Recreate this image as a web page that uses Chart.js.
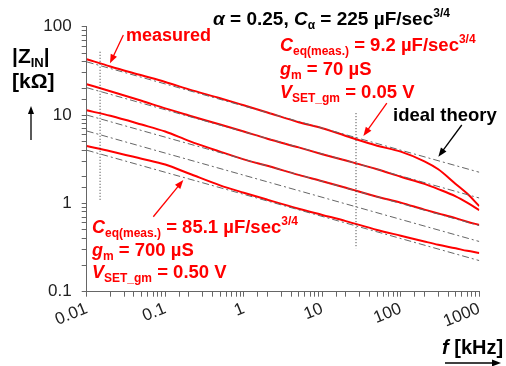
<!DOCTYPE html>
<html><head><meta charset="utf-8">
<script src="https://cdn.jsdelivr.net/npm/chart.js@4/dist/chart.umd.min.js"></script>
<style>html,body{margin:0;padding:0;background:#fff;}#wrap{width:506px;height:366px;position:relative;}</style>
</head><body><div id="wrap"><canvas id="c"></canvas></div>
<script>
// ---- data (frequency in kHz, |Z_IN| in kOhm) ----
const freqKHz = [0.01,0.02,0.05,0.1,0.2,0.5,1,2,5,10,20,50,100,200,300,500,700,1000];
const zMeasured1 = [42.8,35.5,28.2,23.7,19.5,15.5,12.9,10.7,8.3,7.1,5.8,4.5,3.85,2.99,2.43,1.66,1.29,0.93];
const zMeasured2 = [22.3,18.6,14.5,11.9,9.9,7.8,6.5,5.4,4.3,3.6,3.05,2.43,2.0,1.66,1.45,1.2,1.02,0.84];
const zMeasured3 = [11.3,9.8,7.8,6.5,5.1,3.85,3.15,2.66,2.1,1.78,1.5,1.19,1.02,0.85,0.77,0.68,0.62,0.57];
const zMeasured4 = [4.46,3.9,3.2,2.75,2.18,1.6,1.32,1.1,0.87,0.74,0.63,0.5,0.43,0.37,0.34,0.31,0.29,0.275];
const idealFreq = [0.01,1000];
const zIdeal1 = [40,2.25];
const zIdeal2 = [20.4,1.15];
const zIdeal3 = [10,0.56];
const zIdeal4 = [6.6,0.37];
const zIdeal5 = [4.0,0.225];
const markerFreqA = [0.0148,0.0148];
const markerZA = [52,1.09];
const markerFreqB = [26.9,26.9];
const markerZB = [10.5,0.31];
const xTickLabels = ['0.01','0.1','1','10','100','1000'];
const yTickLabels = ['0.1','1','10','100'];
// arrows: [fromF, fromZ, toF, toZ]
const arrowMeasured = [0.0293,80.5,0.0198,38.5];
const arrowTop = [66.4,13.6,33.4,5.78];
const arrowIdeal = [598,7.71,301,3.37];
const arrowBottom = [0.0705,0.705,0.170,1.84];

const FF = '"Liberation Sans", Arial, Helvetica, sans-serif';
const RED = '#ff0000';
const pts = (xs, ys) => xs.map((x,i)=>({x, y: ys[i]}));
const decadeLabel = (v, labels, minExp) => {
  const e = Math.log10(v), r = Math.round(e);
  if (Math.abs(e - r) > 1e-6) return '';
  return labels[r - minExp] ?? '';
};
const meas = (d) => ({data: d, borderColor: RED, borderWidth: 2, pointRadius: 0, cubicInterpolationMode: 'monotone', order: 2});
const ideal = (d) => ({data: d, borderColor: '#666', borderWidth: 1, borderDash: [7,3,2,3], pointRadius: 0, order: 1});
const marker = (d) => ({data: d, borderColor: '#333', borderWidth: 1, borderDash: [1,2], pointRadius: 0, order: 0});

const b = (s) => `bold ${s}px ${FF}`;
const ib = (s) => `italic bold ${s}px ${FF}`;
function runs(ctx, x, y, list, color) {
  ctx.save(); ctx.fillStyle = color; ctx.textAlign = 'left'; ctx.textBaseline = 'alphabetic';
  for (const r of list) { ctx.font = r.f; ctx.fillText(r.t, x, y + (r.dy || 0)); x += ctx.measureText(r.t).width; }
  ctx.restore();
}
function arrow(ctx, x1, y1, x2, y2, color, head) {
  ctx.save(); ctx.strokeStyle = color; ctx.fillStyle = color; ctx.lineWidth = 1.3;
  const a = Math.atan2(y2 - y1, x2 - x1);
  ctx.beginPath(); ctx.moveTo(x1, y1); ctx.lineTo(x2 - Math.cos(a)*head*0.8, y2 - Math.sin(a)*head*0.8); ctx.stroke();
  ctx.beginPath(); ctx.moveTo(x2, y2);
  ctx.lineTo(x2 - head*Math.cos(a) + head*0.38*Math.sin(a), y2 - head*Math.sin(a) - head*0.38*Math.cos(a));
  ctx.lineTo(x2 - head*Math.cos(a) - head*0.38*Math.sin(a), y2 - head*Math.sin(a) + head*0.38*Math.cos(a));
  ctx.closePath(); ctx.fill(); ctx.restore();
}
const annot = {
  id: 'annot',
  afterDraw(chart) {
    const ctx = chart.ctx, xs = chart.scales.x, ys = chart.scales.y;
    const dArrow = (a, c) => arrow(ctx, xs.getPixelForValue(a[0]), ys.getPixelForValue(a[1]), xs.getPixelForValue(a[2]), ys.getPixelForValue(a[3]), c, 9);
    runs(ctx, 213, 25, [{t:'α',f:ib(19)},{t:' = 0.25, ',f:b(19)},{t:'C',f:ib(19)},{t:'α',f:b(12),dy:4},{t:' = 225 µF/sec',f:b(19)},{t:'3/4',f:b(12),dy:-8}], '#000');
    runs(ctx, 126, 41, [{t:'measured',f:b(18)}], RED);
    runs(ctx, 280, 51, [{t:'C',f:ib(18)},{t:'eq(meas.)',f:b(12),dy:4},{t:' = 9.2 µF/sec',f:b(18.5)},{t:'3/4',f:b(12),dy:-8}], RED);
    runs(ctx, 280, 75, [{t:'g',f:ib(18)},{t:'m',f:b(12),dy:4},{t:' = 70 µS',f:b(18.5)}], RED);
    runs(ctx, 280, 98, [{t:'V',f:ib(18)},{t:'SET_gm',f:b(12),dy:4},{t:' = 0.05 V',f:b(18.5)}], RED);
    runs(ctx, 393, 121, [{t:'ideal theory',f:b(18.5)}], '#000');
    runs(ctx, 92, 233, [{t:'C',f:ib(18)},{t:'eq(meas.)',f:b(12),dy:4},{t:' = 85.1 µF/sec',f:b(18.5)},{t:'3/4',f:b(12),dy:-8}], RED);
    runs(ctx, 92, 256, [{t:'g',f:ib(18)},{t:'m',f:b(12),dy:4},{t:' = 700 µS',f:b(18.5)}], RED);
    runs(ctx, 92, 278, [{t:'V',f:ib(18)},{t:'SET_gm',f:b(12),dy:4},{t:' = 0.50 V',f:b(18.5)}], RED);
    runs(ctx, 12, 63, [{t:'|Z',f:b(21)},{t:'IN',f:b(13),dy:4},{t:'|',f:b(21)}], '#000');
    runs(ctx, 12, 88, [{t:'[kΩ]',f:b(21)}], '#000');
    runs(ctx, 442, 354, [{t:'f',f:ib(20)},{t:' [kHz]',f:b(20)}], '#000');
    arrow(ctx, 31, 140, 31, 106, '#000', 8);
    arrow(ctx, 445, 363, 501, 363, '#000', 9);
    dArrow(arrowMeasured, RED); dArrow(arrowTop, RED); dArrow(arrowIdeal, '#000'); dArrow(arrowBottom, RED);
  }
};

new Chart(document.getElementById('c'), {
  type: 'line',
  data: { datasets: [
    meas(pts(freqKHz, zMeasured1)), meas(pts(freqKHz, zMeasured2)), meas(pts(freqKHz, zMeasured3)), meas(pts(freqKHz, zMeasured4)),
    ideal(pts(idealFreq, zIdeal1)), ideal(pts(idealFreq, zIdeal2)), ideal(pts(idealFreq, zIdeal3)), ideal(pts(idealFreq, zIdeal4)), ideal(pts(idealFreq, zIdeal5)),
    marker(pts(markerFreqA, markerZA)), marker(pts(markerFreqB, markerZB))
  ]},
  options: {
    responsive: true, maintainAspectRatio: false, animation: false, devicePixelRatio: 1,
    layout: { padding: { left: 0, right: 26.7, top: 26.7, bottom: 0 } },
    plugins: { legend: { display: false }, tooltip: { enabled: false } },
    scales: {
      x: { type: 'logarithmic', min: 0.01, max: 1000,
        afterFit(s) { s.height = 74.3; },
        border: { display: true, color: '#666', width: 1 },
        grid: { display: true, drawOnChartArea: false, drawTicks: true, tickLength: 5, color: '#666' },
        ticks: { autoSkip: false, minRotation: 22, maxRotation: 22, padding: 2, color: '#222', font: { family: FF, size: 17 },
          callback: (v) => decadeLabel(v, xTickLabels, -2) } },
      y: { type: 'logarithmic', min: 0.1, max: 100,
        afterFit(s) { s.width = 86.7; },
        border: { display: true, color: '#666', width: 1 },
        grid: { display: true, drawOnChartArea: false, drawTicks: true, tickLength: 5, color: '#666' },
        ticks: { autoSkip: false, padding: 10, color: '#222', font: { family: FF, size: 17 },
          callback: (v) => decadeLabel(v, yTickLabels, -1) } }
    }
  },
  plugins: [annot]
});
</script></body></html>
